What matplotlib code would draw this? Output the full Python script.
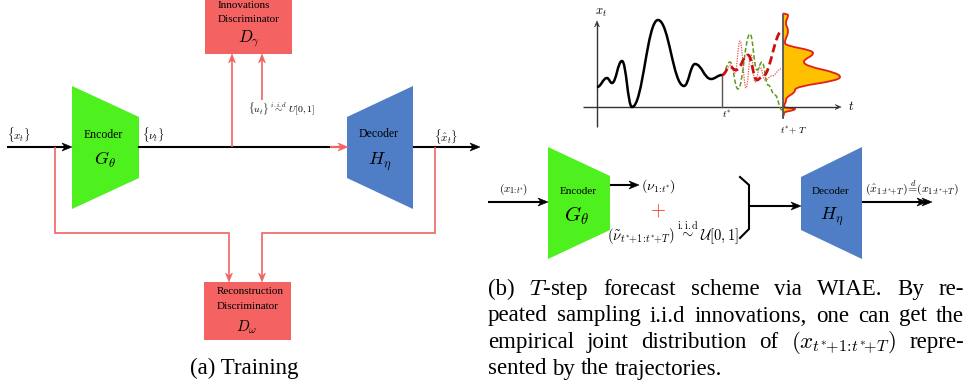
import numpy as np
import matplotlib.pyplot as plt
from matplotlib.patches import Polygon, Rectangle, PathPatch
from matplotlib.path import Path

plt.rcParams['font.family'] = 'serif'
plt.rcParams['font.serif'] = ['Liberation Serif', 'DejaVu Serif']
plt.rcParams['mathtext.fontset'] = 'cm'

W, H = 966, 387

GREEN = '#4ef01e'
BLUE = '#4f7ec6'
RED_BOX = '#f46262'
RED_LINE = '#f06464'
ORANGE = '#ffc000'

# history curve x_t (extrema, pixel coords)
hist_t = [597, 607, 612, 622, 632, 658, 684, 695, 711, 722]
hist_x = [87, 78, 83, 61, 107, 20, 86, 64, 79, 75]

# sampled forecast trajectories between t* and t*+T
mean_t = [722, 730, 736, 748, 757, 762, 783]
mean_x = [75, 67, 70, 55, 80, 77, 30]
dot_t = [722, 731, 735, 740, 746, 751, 755, 760, 765, 772, 781]
dot_x = [75, 65, 73, 41, 88, 55, 82, 67, 80, 76, 69]
green_t = [722, 730, 738, 750, 757, 762, 768, 775, 782]
green_x = [75, 62, 89, 34, 70, 62, 85, 95, 110]

# empirical density at t*+T (value level, width)
dens_y = [13, 15, 23, 31, 43, 53, 62, 77, 90, 100, 107, 109, 113, 118]
dens_w = [0, 5, 3, 5, 2, 30, 21, 57, 12, 3, 1, 12, 1, 0]

# tight index strings (mathtext spaces + and : otherwise)
IDX_1T = r'1\!:\!t^{*}\!'
IDX_1TT = r'1\!:\!t^{*}\!\!+\!T'
IDX_FC = r't^{*}\!\!+\!1\!:\!t^{*}\!\!+\!T'

caption_b = [
    ['(b)', '$T$-step', 'forecast', 'scheme', 'via', 'WIAE.', 'By', 're-'],
    ['peated', 'sampling', 'i.i.d', 'innovations,', 'one', 'can', 'get', 'the'],
    ['empirical', 'joint', 'distribution', 'of', '$(x_{' + IDX_FC + '})$', 'repre-'],
    ['sented', 'by', 'the', 'trajectories.'],
]

fig = plt.figure(figsize=(W / 100, H / 100), dpi=100)
ax = fig.add_axes([0, 0, 1, 1])
ax.set_xlim(0, W)
ax.set_ylim(H, 0)
ax.axis('off')


def wave(xs, ys, k=0.42, vertical=False):
    verts = [(xs[0], ys[0])]
    codes = [Path.MOVETO]
    for i in range(len(xs) - 1):
        x0, y0, x1, y1 = xs[i], ys[i], xs[i + 1], ys[i + 1]
        if vertical:
            verts += [(x0, y0 + k * (y1 - y0)), (x1, y1 - k * (y1 - y0)), (x1, y1)]
        else:
            verts += [(x0 + k * (x1 - x0), y0), (x1 - k * (x1 - x0), y1), (x1, y1)]
        codes += [Path.CURVE4] * 3
    return verts, codes


def head(tip, d, color, length=10, half=4, notch=3, z=6):
    tx, ty = tip
    dx, dy = d
    px, py = -dy, dx
    bx, by = tx - dx * length, ty - dy * length
    pts = [(tx, ty), (bx + px * half, by + py * half),
           (tx - dx * (length - notch), ty - dy * (length - notch)),
           (bx - px * half, by - py * half)]
    ax.add_patch(Polygon(pts, closed=True, fc=color, ec=color, lw=0.4, zorder=z))


def arrow(pts, color='black', lw=1.5, length=10, half=4, double=False, z=4):
    (x0, y0), (x1, y1) = pts[-2], pts[-1]
    d = np.hypot(x1 - x0, y1 - y0)
    u = ((x1 - x0) / d, (y1 - y0) / d)
    cut = length - 3
    line = list(pts[:-1]) + [(x1 - u[0] * cut, y1 - u[1] * cut)]
    xs, ys = zip(*line)
    ax.plot(xs, ys, color=color, lw=lw, solid_capstyle='butt',
            solid_joinstyle='miter', zorder=z)
    head((x1, y1), u, color, length, half, z=z + 1)
    if double:
        head((x1 - u[0] * 5, y1 - u[1] * 5), u, color, length, half, z=z + 1)


def trapezoid(pts, color):
    ax.add_patch(Polygon(pts, closed=True, fc=color, ec='none', zorder=2))


# ---------------- (a) training ----------------
ax.add_patch(Rectangle((205, -2), 87, 56, fc=RED_BOX, ec='none', zorder=2))
ax.text(218, 6, 'Innovations', fontsize=8, va='center', zorder=3)
ax.text(218, 20, 'Discriminator', fontsize=8, va='center', zorder=3)
ax.text(249, 39, r'$D_\gamma$', fontsize=12, ha='center', va='center', zorder=3)

ax.add_patch(Rectangle((204, 282), 87, 58, fc=RED_BOX, ec='none', zorder=2))
ax.text(217, 292, 'Reconstruction', fontsize=8, va='center', zorder=3)
ax.text(217, 306.5, 'Discriminator', fontsize=8, va='center', zorder=3)
ax.text(247, 327, r'$D_\omega$', fontsize=11, ha='center', va='center', zorder=3)

trapezoid([(72, 86), (139, 117), (139, 178), (72, 209)], GREEN)
trapezoid([(347, 117), (413, 86), (413, 209), (347, 178)], BLUE)
ax.text(103, 135, 'Encoder', fontsize=8.5, ha='center', va='center', zorder=3)
ax.text(105, 160, r'$G_\theta$', fontsize=13, ha='center', va='center', zorder=3)
ax.text(379, 134, 'Decoder', fontsize=8.5, ha='center', va='center', zorder=3)
ax.text(380, 161, r'$H_\eta$', fontsize=13, ha='center', va='center', zorder=3)

arrow([(7, 147), (72, 147)])
ax.plot([139, 340], [147, 147], color='black', lw=1.5, zorder=3)
arrow([(330, 147), (348, 147)], color=RED_LINE, lw=1.5)
arrow([(413, 147), (480, 147)])

ax.text(19, 135, r'$\{x_t\}$', fontsize=8, ha='center', va='center')
ax.text(153, 135, r'$\{\nu_t\}$', fontsize=8, ha='center', va='center')
ax.text(446, 137, r'$\{\hat{x}_t\}$', fontsize=8, ha='center', va='center')
ax.text(281, 109, r'$\{u_t\}\ \overset{i.i.d}{\sim}\ U[0,1]$', fontsize=7,
        ha='center', va='center')

arrow([(232, 147), (232, 54)], color=RED_LINE, lw=1.2, length=9, half=3.5)
arrow([(262, 100), (262, 54)], color=RED_LINE, lw=1.2, length=9, half=3.5)
arrow([(55, 147), (55, 233), (229, 233), (229, 282)], color=RED_LINE, lw=1.2,
      length=9, half=3.5)
arrow([(435, 147), (435, 233), (262, 233), (262, 282)], color=RED_LINE, lw=1.2,
      length=9, half=3.5)

ax.text(244, 374, '(a) Training', fontsize=16.5, ha='center', va='baseline')

# ---------------- (b) forecast sketch ----------------
arrow([(597, 127), (597, 21)], color='#333333', lw=1.0, length=6, half=2.5)
arrow([(583, 107), (841, 107)], color='#333333', lw=1.0, length=6, half=2.5)
ax.text(601, 13, r'$x_t$', fontsize=9, ha='center', va='center')
ax.text(851, 107, r'$t$', fontsize=9, ha='center', va='center')
ax.text(727, 114, r'$t^{*}$', fontsize=7, ha='center', va='center')
ax.text(793, 130, r'$t^{*}\!+T$', fontsize=7, ha='center', va='center')

v, c = wave(dens_w, dens_y, vertical=True)
v = [(783 + w, y) for w, y in v]
fill = Path(v + [(783, dens_y[-1]), (783, dens_y[0]), (0, 0)],
            c + [Path.LINETO, Path.LINETO, Path.CLOSEPOLY])
ax.add_patch(PathPatch(fill, fc=ORANGE, ec='none', zorder=2))
ax.add_patch(PathPatch(Path(v, c), fc='none', ec='#e0201a', lw=1.3, zorder=3))
ax.plot([783, 783], [15, 118], color='#555555', lw=1.3, zorder=4)
ax.plot([722, 722], [75, 107], color='#555555', lw=1.0, zorder=4)

v, c = wave(hist_t, hist_x)
ax.add_patch(PathPatch(Path(v, c), fc='none', ec='black', lw=1.8, zorder=5))
v, c = wave(green_t, green_x)
ax.add_patch(PathPatch(Path(v, c), fc='none', ec='#5c9a1c', lw=1.1,
                       ls=(0, (3, 1.5)), zorder=5))
v, c = wave(dot_t, dot_x)
ax.add_patch(PathPatch(Path(v, c), fc='none', ec='#e85050', lw=0.9,
                       ls=(0, (1, 1)), zorder=5))
v, c = wave(mean_t, mean_x)
ax.add_patch(PathPatch(Path(v, c), fc='none', ec='#cc1010', lw=2.0,
                       ls=(0, (3, 1.5)), zorder=6))

# ---------------- (b) forecast scheme ----------------
trapezoid([(548, 147), (610, 176), (610, 230), (548, 259)], GREEN)
trapezoid([(801, 177), (862, 147), (862, 259), (801, 230)], BLUE)
ax.text(578, 192, 'Encoder', fontsize=8, ha='center', va='center', zorder=3)
ax.text(577, 216, r'$G_\theta$', fontsize=15, ha='center', va='center', zorder=3)
ax.text(831, 191, 'Decoder', fontsize=8, ha='center', va='center', zorder=3)
ax.text(832, 216, r'$H_\eta$', fontsize=13, ha='center', va='center', zorder=3)

arrow([(488, 202), (548, 202)])
arrow([(610, 185), (639, 185)])
ax.text(513, 189, r'$(x_{' + IDX_1T + '})$', fontsize=8, ha='center', va='center')
ax.text(641, 186, r'$(\nu_{' + IDX_1T + '})$', fontsize=10, ha='left', va='center')
ax.text(658, 211, r'$+$', fontsize=14, color='#ff3020', ha='center', va='center')
ax.text(607, 236, r'$(\tilde{\nu}_{' + IDX_FC + r'})$', fontsize=10.5,
        ha='left', va='center')
ax.text(688, 232, r'$\overset{\mathrm{i.i.d}}{\sim}$', fontsize=10.5,
        ha='center', va='center')
ax.text(700, 236, r'$\mathcal{U}[0,1]$', fontsize=10.5, ha='left', va='center')

ax.plot([740, 749, 749, 740], [177, 185, 229, 238], color='black', lw=1.5,
        solid_joinstyle='miter')
arrow([(749, 206), (801, 206)])
arrow([(862, 202), (932, 202)], double=True)
ax.text(865, 188, r'$(\hat{x}_{' + IDX_1TT + r'})\!\overset{d}{=}\!(x_{' + IDX_1TT + '})$',
        fontsize=8.5, ha='left', va='center')

# caption (b), justified by hand
fig.canvas.draw()
renderer = fig.canvas.get_renderer()
left, right = 488, 964
for i, words in enumerate(caption_b):
    y = 295 + 26.5 * i
    texts = [ax.text(0, y, w, fontsize=16.5, va='baseline') for w in words]
    widths = [t.get_window_extent(renderer).width for t in texts]
    if i < len(caption_b) - 1:
        gap = (right - left - sum(widths)) / (len(words) - 1)
    else:
        gap = 16.5 * 100 / 72 * 0.25
    x = left
    for t, w in zip(texts, widths):
        t.set_x(x)
        x += w + gap

fig.savefig('out.png', dpi=100)
